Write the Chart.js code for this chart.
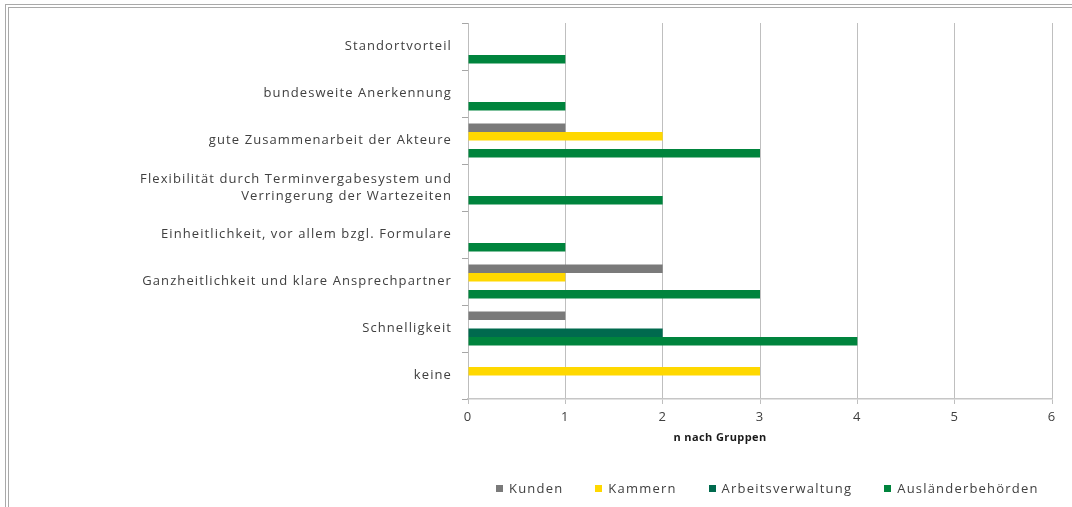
<!DOCTYPE html>
<html lang="de">
<head>
<meta charset="utf-8">
<title>n nach Gruppen</title>
<script src="https://cdn.jsdelivr.net/npm/chart.js@4.4.1/dist/chart.umd.min.js"></script>
<style>
    html, body { margin: 0; padding: 0; background: #fff; }
    #page { position: relative; width: 1072px; height: 507px; overflow: hidden; background: #fff; }
    #frame { position: absolute; left: 5px; top: 4px; right: -10px; bottom: -10px;
             border-top: 4px double #a9a9a9; border-left: 4px double #a9a9a9; }
    #chartBox { position: absolute; left: 0; top: 0; width: 1072px; height: 507px; }
    #legend { position: absolute; left: 496px; top: 479px; display: flex; gap: 32px;
              font: 13px "Open Sans", sans-serif; letter-spacing: 1.2px; color: #404040; white-space: nowrap; }
    #legend .item { display: flex; align-items: center; }
    #legend .box { width: 7px; height: 7px; margin-right: 6px; }
</style>
</head>
<body>
<div id="page">
    <div id="frame"></div>
    <div id="chartBox"><canvas id="chart"></canvas></div>
    <div id="legend"></div>
</div>
<script>
// Kategorien von oben nach unten
const categories = [
    'Standortvorteil',
    'bundesweite Anerkennung',
    'gute Zusammenarbeit der Akteure',
    ['Flexibilität durch Terminvergabesystem und', 'Verringerung der Wartezeiten'],
    'Einheitlichkeit, vor allem bzgl. Formulare',
    'Ganzheitlichkeit und klare Ansprechpartner',
    'Schnelligkeit',
    'keine'
];

const seriesNames = ['Kunden', 'Kammern', 'Arbeitsverwaltung', 'Ausländerbehörden'];
const kunden = [0, 0, 1, 0, 0, 2, 1, 0];
const kammern = [0, 0, 2, 0, 0, 1, 0, 3];
const arbeitsverwaltung = [0, 0, 0, 0, 0, 0, 2, 0];
const auslaenderbehoerden = [1, 1, 3, 2, 1, 3, 4, 0];
const seriesColors = ['#7a7a7a', '#ffd800', '#006a4e', '#00843d'];

const xTicks = [0, 1, 2, 3, 4, 5, 6];
const axisTitle = 'n nach Gruppen';

const seriesValues = [kunden, kammern, arbeitsverwaltung, auslaenderbehoerden];

// Die Vorlage ist horizontal gestreckt -> etwas Zeichenabstand
const spacingPlugin = {
    id: 'spacing',
    beforeLayout(chart) { chart.ctx.letterSpacing = '1.1px'; },
    beforeDraw(chart) { chart.ctx.letterSpacing = '1.1px'; }
};

// Achsentitel (in Excel leicht nach links versetzt)
const axisTitlePlugin = {
    id: 'axisTitle',
    afterDraw(chart) {
        const c = chart.ctx;
        c.save();
        c.letterSpacing = '0.4px';
        c.font = 'bold 11px "Open Sans", sans-serif';
        c.fillStyle = '#1a1a1a';
        c.textAlign = 'center';
        c.textBaseline = 'middle';
        c.fillText(axisTitle, 720, 438);
        c.restore();
    }
};

const ctx = document.getElementById('chart').getContext('2d');
new Chart(ctx, {
    type: 'bar',
    data: {
        labels: categories,
        datasets: seriesNames.map((name, i) => ({
            label: name,
            data: seriesValues[i],
            backgroundColor: seriesColors[i],
            borderWidth: 0,
            barPercentage: 1,
            categoryPercentage: 0.72
        }))
    },
    options: {
        indexAxis: 'y',
        responsive: true,
        maintainAspectRatio: false,
        animation: false,
        layout: { padding: { top: 23, right: 20, left: 0, bottom: 0 } },
        plugins: {
            legend: { display: false },
            tooltip: { enabled: false }
        },
        scales: {
            y: {
                afterFit: (scale) => { scale.width = 468; },
                ticks: {
                    color: '#404040',
                    font: { family: '"Open Sans", sans-serif', size: 13, lineHeight: 1.3 },
                    padding: 10
                },
                grid: { drawOnChartArea: false, tickLength: 6, color: '#a6a6a6' },
                border: { color: '#bdbdbd' }
            },
            x: {
                min: 0,
                max: 6,
                afterFit: (scale) => { scale.height = 108; },
                afterBuildTicks: (scale) => { scale.ticks = xTicks.map(v => ({ value: v })); },
                ticks: {
                    color: '#404040',
                    font: { family: '"Open Sans", sans-serif', size: 13 },
                    padding: 5
                },
                grid: { color: '#bfbfbf', tickLength: 5 },
                border: { color: '#c6c6c6', width: 1.5 }
            }
        }
    },
    plugins: [spacingPlugin, axisTitlePlugin]
});

// HTML-Legende
const legend = document.getElementById('legend');
seriesNames.forEach((name, i) => {
    const item = document.createElement('div');
    item.className = 'item';
    const box = document.createElement('span');
    box.className = 'box';
    box.style.background = seriesColors[i];
    const txt = document.createElement('span');
    txt.textContent = name;
    item.appendChild(box);
    item.appendChild(txt);
    legend.appendChild(item);
});
</script>
</body>
</html>
